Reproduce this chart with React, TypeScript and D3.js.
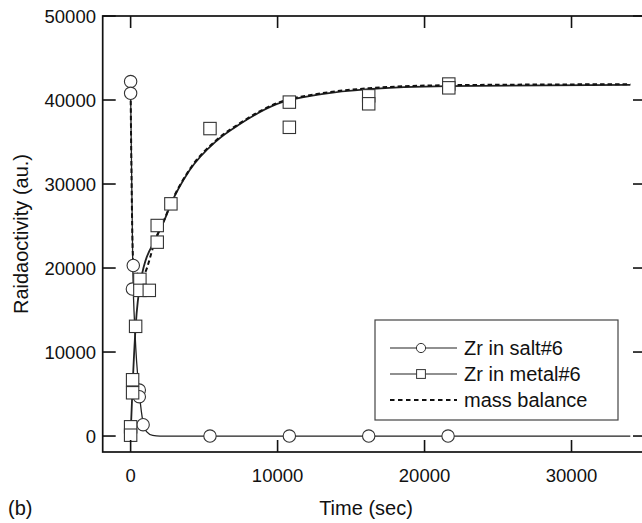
import React from "react";
import * as d3 from "d3";

// ---- data (time in sec, radioactivity in au.) ----
const saltPoints: [number, number][] = [
  [0, 42200], [0, 40800], [180, 20300], [120, 17500],
  [590, 5470], [590, 4680], [850, 1350],
  [5400, 0], [10800, 0], [16200, 0], [21600, 0],
];
const metalPoints: [number, number][] = [
  [0, 1100], [0, 100], [135, 6700], [135, 5150], [340, 13060],
  [630, 18650], [630, 17340], [1270, 17340], [1810, 25060], [1810, 23080],
  [2740, 27640], [5400, 36600], [10800, 39750], [10800, 36750],
  [16200, 40500], [16200, 39550], [21650, 41900], [21650, 41450],
];
const saltFit: [number, number][] = [
  [0, 40800], [150, 19800], [300, 12300], [600, 5000], [850, 1600],
  [1100, 500], [1500, 80], [2000, 0], [34000, 0],
];
const metalFit: [number, number][] = [
  [0, 200], [135, 6000], [340, 13000], [700, 18600], [1800, 23800],
  [2300, 25700], [2740, 27600], [4000, 31600], [5850, 35150], [7440, 37140],
  [9930, 39500], [13000, 40700], [16200, 41300], [21600, 41650], [34000, 41800],
];
const massBalance: [number, number][] = [
  [0, 40800], [170, 21000], [400, 19600], [700, 18800], [1800, 23900],
  [2300, 25800], [2740, 27700], [4000, 31700], [5850, 35250], [7440, 37240],
  [9930, 39600], [13000, 40800], [16200, 41400], [21600, 41760], [34000, 41880],
];
const xTicks = [0, 10000, 20000, 30000];
const yTicks = [0, 10000, 20000, 30000, 40000, 50000];
const legendLabels = ["Zr in salt#6", "Zr in metal#6", "mass balance"];

const FONT = "'Liberation Sans', Arial, Helvetica, sans-serif";

export default function App() {
  const W = 642, H = 523;
  const left = 102.7, right = 645, top = 16, bottom = 452;
  const x = d3.scaleLinear().domain([-1900, 35000]).range([left, right]);
  const y = d3.scaleLinear().domain([-1900, 50000]).range([bottom, top]);
  const line = d3
    .line<[number, number]>()
    .x((d) => x(d[0]))
    .y((d) => y(d[1]))
    .curve(d3.curveMonotoneX);

  const legendX = 375, legendY = 320, legendW = 243, legendH = 100;
  const rowY = [348, 374, 400];
  const sx0 = 390, sx1 = 457, sxm = 421;

  return (
    <svg
      width={W}
      height={H}
      style={{ position: "absolute", left: 0, top: 0, background: "#fff" }}
      fontFamily={FONT}
    >
      <defs>
        <clipPath id="plot">
          <rect x={left} y={top} width={right - left} height={bottom - top} />
        </clipPath>
      </defs>
      <rect x={0} y={0} width={W} height={H} fill="#fff" />

      {/* curves */}
      <g clipPath="url(#plot)" fill="none">
        <path d={line(saltFit) || ""} stroke="#222" strokeWidth={1.3} />
        <path d={line(metalFit) || ""} stroke="#222" strokeWidth={1.8} />
        <path
          d={line(massBalance) || ""}
          stroke="#111"
          strokeWidth={2}
          strokeDasharray="4.5,3"
        />
      </g>

      {/* markers */}
      <g fill="#fff" stroke="#333" strokeWidth={1.1}>
        {saltPoints.map((d, i) => (
          <circle key={"s" + i} cx={x(d[0])} cy={y(d[1])} r={6.2} />
        ))}
        {metalPoints.map((d, i) => (
          <rect
            key={"m" + i}
            x={x(d[0]) - 6.2}
            y={y(d[1]) - 6.2}
            width={12.4}
            height={12.4}
          />
        ))}
      </g>

      {/* frame */}
      <rect
        x={left}
        y={top}
        width={right - left}
        height={bottom - top}
        fill="none"
        stroke="#111"
        strokeWidth={1.7}
      />
      {/* ticks */}
      <g stroke="#111" strokeWidth={1.6}>
        {xTicks.map((t) => (
          <g key={"xt" + t}>
            <line x1={x(t)} x2={x(t)} y1={bottom} y2={bottom - 12} />
            <line x1={x(t)} x2={x(t)} y1={top} y2={top + 12} />
          </g>
        ))}
        {yTicks.map((t) => (
          <g key={"yt" + t}>
            <line x1={left} x2={left + 13} y1={y(t)} y2={y(t)} />
            <line x1={right} x2={right - 12} y1={y(t)} y2={y(t)} />
          </g>
        ))}
      </g>
      {/* tick labels */}
      <g fontSize={18.5} fill="#111">
        {xTicks.map((t) => (
          <text key={"xl" + t} x={x(t)} y={482} textAnchor="middle">
            {t}
          </text>
        ))}
        {yTicks.map((t) => (
          <text key={"yl" + t} x={96} y={y(t) + 6.5} textAnchor="end">
            {t}
          </text>
        ))}
      </g>

      {/* axis titles */}
      <text x={366} y={515} fontSize={20} textAnchor="middle" fill="#111">
        Time (sec)
      </text>
      <text x={8} y={515} fontSize={20} fill="#111">
        (b)
      </text>
      <text
        transform={`translate(27.5, ${(top + bottom) / 2}) rotate(-90)`}
        fontSize={20}
        textAnchor="middle"
        fill="#111"
      >
        Raidaoctivity (au.)
      </text>

      {/* legend */}
      <rect
        x={legendX}
        y={legendY}
        width={legendW}
        height={legendH}
        fill="#fff"
        stroke="#444"
        strokeWidth={1.2}
      />
      <g>
        <line x1={sx0} x2={sx1} y1={rowY[0]} y2={rowY[0]} stroke="#222" strokeWidth={1.1} />
        <circle cx={sxm} cy={rowY[0]} r={4.6} fill="#fff" stroke="#333" strokeWidth={1} />
        <line x1={sx0} x2={sx1} y1={rowY[1]} y2={rowY[1]} stroke="#222" strokeWidth={1.1} />
        <rect x={sxm - 4.4} y={rowY[1] - 4.4} width={8.8} height={8.8} fill="#fff" stroke="#333" strokeWidth={1} />
        <line
          x1={sx0}
          x2={sx1}
          y1={rowY[2]}
          y2={rowY[2]}
          stroke="#111"
          strokeWidth={1.8}
          strokeDasharray="4.5,3.5"
        />
        {legendLabels.map((l, i) => (
          <text key={l} x={464} y={rowY[i] + 7} fontSize={20} fill="#111">
            {l}
          </text>
        ))}
      </g>
    </svg>
  );
}
